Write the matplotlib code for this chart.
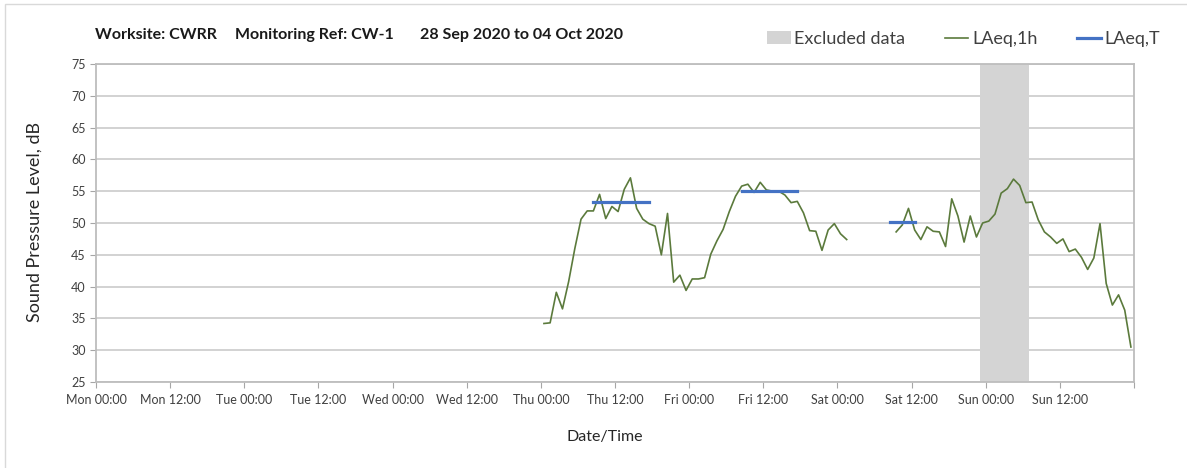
import pandas as pd
import matplotlib
matplotlib.use("Agg")
import matplotlib.pyplot as plt
import matplotlib.dates as mdates
from matplotlib.patches import Patch, Rectangle
from matplotlib.lines import Line2D

plt.rcParams['font.family'] = ['Lato', 'DejaVu Sans']

# hourly LAeq,1h values
seg1_start = "2020-10-01 00:30"   # Thu
seg1_laeq_1h = [34.2, 34.3, 39.1, 36.5, 40.8, 46.0, 50.6, 51.9, 51.9, 54.5,
                50.7, 52.6, 51.8, 55.3, 57.1, 52.3, 50.6, 49.9, 49.5, 45.0,
                51.5, 40.7, 41.8, 39.4, 41.2, 41.2, 41.4, 45.1, 47.2, 49.0,
                51.8, 54.2, 55.8, 56.1, 54.8, 56.4, 55.2, 55.0, 55.0, 54.4,
                53.2, 53.4, 51.6, 48.8, 48.7, 45.7, 48.9, 49.9, 48.3, 47.4]
seg2_start = "2020-10-03 09:30"   # Sat
seg2_laeq_1h = [48.6, 49.7, 52.3, 48.9, 47.4, 49.4, 48.7, 48.6, 46.3, 53.8,
                51.1, 47.0, 51.1, 47.8, 50.0, 50.3, 51.4, 54.7, 55.4, 56.9,
                55.9, 53.2, 53.3, 50.5, 48.6, 47.8, 46.8, 47.5, 45.5, 45.9,
                44.6, 42.7, 44.5, 49.9, 40.5, 37.1, 38.7, 36.3, 30.5]

# LAeq,T over each assessment period
period_start = ["2020-10-01 08:30", "2020-10-02 08:30", "2020-10-03 08:30"]
period_end = ["2020-10-01 17:30", "2020-10-02 17:30", "2020-10-03 12:30"]
laeq_t = [53.3, 55.0, 50.1]

excluded_start = "2020-10-03 23:00"
excluded_end = "2020-10-04 07:00"

week_start = pd.Timestamp("2020-09-28 00:00")
week_end = pd.Timestamp("2020-10-05 00:00")
y_ticks = list(range(25, 80, 5))

green = "#5b7a3c"
blue = "#4472c4"
grey_shade = "#d4d4d4"
text_col = "#262626"

fig = plt.figure(figsize=(11.87, 4.68), dpi=100)
ax = fig.add_axes([96 / 1187, 86 / 468, 1038 / 1187, 318 / 468])

# excluded data band
ax.axvspan(pd.Timestamp(excluded_start), pd.Timestamp(excluded_end),
           color=grey_shade, lw=0, zorder=1)

t1 = pd.date_range(seg1_start, periods=len(seg1_laeq_1h), freq="h")
t2 = pd.date_range(seg2_start, periods=len(seg2_laeq_1h), freq="h")
ax.plot(t1, seg1_laeq_1h, color=green, lw=1.2, zorder=3)
ax.plot(t2, seg2_laeq_1h, color=green, lw=1.2, zorder=3)

for s, e, v in zip(period_start, period_end, laeq_t):
    ax.plot([pd.Timestamp(s), pd.Timestamp(e)], [v, v], color=blue, lw=2.3,
            solid_capstyle="projecting", zorder=4)

ax.set_xlim(week_start, week_end)
ax.set_ylim(25, 75)
ax.set_yticks(y_ticks)

ax.xaxis.set_major_locator(mdates.HourLocator(byhour=[0, 12]))
ax.xaxis.set_major_formatter(mdates.DateFormatter("%a %H:%M"))
ax.xaxis.set_minor_locator(mdates.DayLocator())

# horizontal grid darker than the vertical day lines
ax.grid(axis="y", which="major", color="#cfcfcf", lw=1.3, zorder=0)
ax.grid(axis="x", which="minor", color="#e3e3e3", lw=1.3, zorder=0)
ax.tick_params(axis="x", which="minor", length=0)
ax.tick_params(axis="both", which="major", direction="out", length=4,
               color="#a6a6a6", labelsize=9, labelcolor="#404040")
ax.tick_params(axis="x", pad=5)
for side in ["left", "bottom", "top", "right"]:
    ax.spines[side].set_color("#bdbdbd")
    ax.spines[side].set_linewidth(1.3)
ax.set_axisbelow(True)

# hide the label on the closing Mon 00:00 tick
fig.canvas.draw()
for lab in ax.get_xticklabels():
    if mdates.num2date(lab.get_position()[0]).replace(tzinfo=None) >= week_end:
        lab.set_visible(False)

fig.text(35 / 1187, 1 - 222 / 468, "Sound Pressure Level, dB", fontsize=13,
         color=text_col, rotation=90, ha="center", va="center")
fig.text(605 / 1187, 1 - 437 / 468, "Date/Time", fontsize=11.5, color=text_col,
         ha="center", va="center")

# title in three pieces with wide gaps between them
renderer = fig.canvas.get_renderer()
title_y = 1 - 35 / 468
title_parts = ["Worksite: CWRR", "Monitoring Ref: CW-1", "28 Sep 2020 to 04 Oct 2020"]
gaps_px = [18, 26, 0]
x_px = 95
for part, gap in zip(title_parts, gaps_px):
    t = fig.text(x_px / 1187, title_y, part, fontsize=11.5, fontweight="bold",
                 color="#1a1a1a", va="center")
    x_px = t.get_window_extent(renderer).x1 + gap

handles = [Patch(facecolor=grey_shade, edgecolor="none"),
           Line2D([], [], color=green, lw=1.2),
           Line2D([], [], color=blue, lw=2.3)]
fig.legend(handles, ["Excluded data", "LAeq,1h", "LAeq,T"], ncol=3, frameon=False,
           loc="center right", bbox_to_anchor=(1176 / 1187, 1 - 39 / 468),
           fontsize=13, handlelength=1.3, handletextpad=0.2, columnspacing=2.2,
           labelcolor="#404040")

# light frame around the chart
fig.patches.append(Rectangle((5 / 1187, -0.1), 1.2, 1 - 4 / 468 + 0.1,
                             transform=fig.transFigure, fill=False,
                             edgecolor="#d9d9d9", lw=1))

fig.savefig("out.png", dpi=100)
